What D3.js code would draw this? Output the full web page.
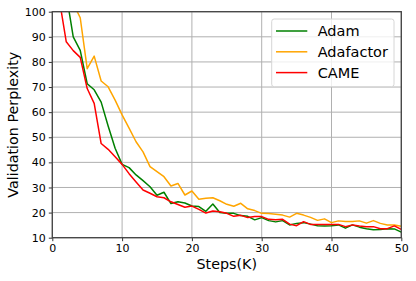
<!DOCTYPE html>
<html>
<head>
<meta charset="utf-8">
<script src="https://d3js.org/d3.v7.min.js"></script>
<style>
  body { margin: 0; background: #fff; }
  svg { display: block; font-family: "DejaVu Sans", sans-serif; }
</style>
</head>
<body>
<svg id="chart" width="416" height="281"></svg>
<script>
const steps = [1, 2, 3, 4, 5, 6, 7, 8, 9, 10, 11, 12, 13, 14, 15, 16, 17, 18, 19, 20,
               21, 22, 23, 24, 25, 26, 27, 28, 29, 30, 31, 32, 33, 34, 35, 36, 37, 38, 39, 40,
               41, 42, 43, 44, 45, 46, 47, 48, 49, 50];

const adam = [125, 107, 90, 84.6, 71.3, 68.9, 64, 54.5, 45.6, 39.2,
              37.9, 35, 32.7, 30.3, 26.9, 28.1, 23.6, 24.3, 23.8, 22.6,
              22.4, 20.5, 23.4, 20.0, 19.7, 19.7, 18.8, 18.5, 17.1, 18.0,
              16.8, 16.3, 16.8, 15.1, 15.7, 16.0, 15.4, 14.8, 14.7, 14.8,
              15.1, 13.8, 15.1, 14.2, 13.6, 13.2, 13.3, 13.6, 13.5, 12.2];

const adafactor = [130, 115, 103.3, 97.6, 77.3, 82.3, 72.4, 70.1, 64.8, 58.9,
                   53.6, 48.2, 44.2, 38.3, 36.3, 34.3, 30.6, 31.6, 27, 28.6,
                   25.3, 25.7, 25.9, 24.7, 23.3, 22.5, 23.7, 21.5, 20.8, 19.7,
                   19.6, 19.3, 19.0, 18.2, 19.7, 19.0, 18.1, 16.9, 17.5, 16.0,
                   16.7, 16.5, 16.5, 16.7, 15.8, 16.8, 15.7, 15.1, 15.1, 14.6];

const came = [105, 88, 84.5, 81.8, 69.4, 63.5, 47.5, 45.2, 42.2, 39.2,
              35.5, 32.2, 29.0, 27.7, 26.3, 25.9, 24.3, 23.2, 22.1, 22.6,
              21.3, 19.8, 20.6, 20.3, 19.7, 18.5, 18.9, 18.0, 18.4, 18.4,
              17.3, 17.1, 17.3, 15.4, 14.8, 16.4, 15.3, 15.3, 15.3, 15.3,
              15.3, 14.4, 15.1, 14.7, 14.4, 14.4, 13.6, 13.6, 14.7, 13.3];

const xTicks = [0, 10, 20, 30, 40, 50];
const yTicks = [10, 20, 30, 40, 50, 60, 70, 80, 90, 100];
const seriesNames = ["Adam", "Adafactor", "CAME"];
const seriesColors = ["green", "orange", "red"];

const svg = d3.select("#chart");
const margin = {top: 11.7, right: 14.7, bottom: 43.3, left: 52.3};
const width = 416 - margin.left - margin.right;
const height = 281 - margin.top - margin.bottom;

const g = svg.append("g")
    .attr("transform", "translate(" + margin.left + "," + margin.top + ")");

const xScale = d3.scaleLinear().domain([0, 50]).range([0, width]);
const yScale = d3.scaleLinear().domain([10, 100]).range([height, 0]);

// grid
g.append("g")
    .selectAll("line")
    .data(xTicks)
    .enter()
    .append("line")
      .attr("x1", d => xScale(d))
      .attr("x2", d => xScale(d))
      .attr("y1", 0)
      .attr("y2", height)
      .attr("stroke", "#b0b0b0")
      .attr("stroke-width", 1);

g.append("g")
    .selectAll("line")
    .data(yTicks)
    .enter()
    .append("line")
      .attr("x1", 0)
      .attr("x2", width)
      .attr("y1", d => yScale(d))
      .attr("y2", d => yScale(d))
      .attr("stroke", "#b0b0b0")
      .attr("stroke-width", 1);

// lines
g.append("clipPath")
    .attr("id", "plotClip")
  .append("rect")
    .attr("width", width)
    .attr("height", height);

const allSeries = [adam, adafactor, came];
const line = d3.line()
    .x((d, i) => xScale(steps[i]))
    .y(d => yScale(d));

const plot = g.append("g").attr("clip-path", "url(#plotClip)");
allSeries.forEach((values, i) => {
  plot.append("path")
      .datum(values)
      .attr("d", line)
      .attr("fill", "none")
      .attr("stroke", seriesColors[i])
      .attr("stroke-width", 1.5)
      .attr("stroke-linejoin", "round");
});

// axes
const xAxis = g.append("g")
    .attr("transform", "translate(0," + height + ")")
    .call(d3.axisBottom(xScale).tickValues(xTicks).tickSize(3.5).tickPadding(3));
const yAxis = g.append("g")
    .call(d3.axisLeft(yScale).tickValues(yTicks).tickSize(3.5).tickPadding(3));

[xAxis, yAxis].forEach(ax => {
  ax.select(".domain").remove();
  ax.selectAll("text")
      .attr("font-size", "11px")
      .attr("font-family", "DejaVu Sans")
      .attr("fill", "#000");
  ax.selectAll("line").attr("stroke", "#333");
});

// frame
g.append("rect")
    .attr("width", width)
    .attr("height", height)
    .attr("fill", "none")
    .attr("stroke", "#444")
    .attr("stroke-width", 1.3);

// axis labels
svg.append("text")
    .attr("x", margin.left + width / 2)
    .attr("y", 268.7)
    .attr("text-anchor", "middle")
    .attr("font-size", "14.3px")
    .text("Steps(K)");

svg.append("text")
    .attr("transform", "translate(18," + (margin.top + height / 2) + ")rotate(-90)")
    .attr("text-anchor", "middle")
    .attr("font-size", "14.3px")
    .text("Validation Perplexity");

// legend
const legend = svg.append("g").attr("transform", "translate(271.7,19)");
legend.append("rect")
    .attr("width", 122.3)
    .attr("height", 67.7)
    .attr("rx", 2.5)
    .attr("fill", "#fff")
    .attr("fill-opacity", 0.8)
    .attr("stroke", "#d6d6d6")
    .attr("stroke-width", 1);

seriesNames.forEach((name, i) => {
  const yRow = 12 + i * 20.8;
  legend.append("line")
      .attr("x1", 4.3)
      .attr("x2", 35.6)
      .attr("y1", yRow)
      .attr("y2", yRow)
      .attr("stroke", seriesColors[i])
      .attr("stroke-width", 1.5);
  legend.append("text")
      .attr("x", 46)
      .attr("y", yRow)
      .attr("dy", "0.36em")
      .attr("font-size", "14.5px")
      .text(name);
});
</script>
</body>
</html>
